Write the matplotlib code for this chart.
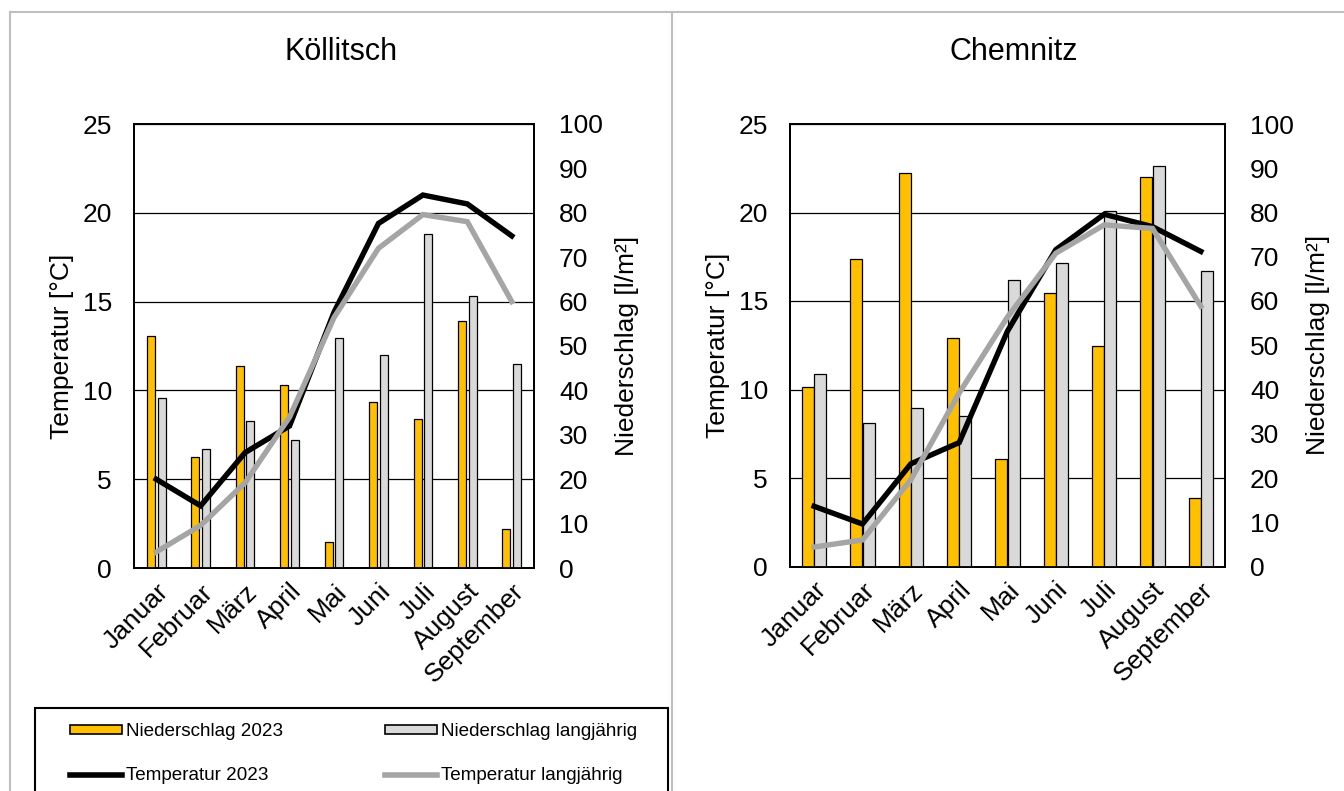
import matplotlib
matplotlib.use('Agg')
import matplotlib.pyplot as plt
from matplotlib.patches import Rectangle, Patch
from matplotlib.lines import Line2D
import numpy as np

plt.rcParams['font.family'] = ['Liberation Sans', 'DejaVu Sans']

# ---------------- data ----------------
months = ['Januar', 'Februar', 'März', 'April', 'Mai', 'Juni', 'Juli', 'August', 'September']
stations = ['Köllitsch', 'Chemnitz']

koe_prec_2023 = [52.2, 25.0, 45.5, 41.3, 5.8, 37.4, 33.6, 55.6, 8.7]
koe_prec_long = [38.3, 26.9, 33.0, 28.8, 51.8, 47.9, 75.2, 61.2, 46.0]
koe_temp_2023 = [5.0, 3.5, 6.5, 8.0, 14.4, 19.4, 21.0, 20.5, 18.7]
koe_temp_long = [0.9, 2.4, 4.8, 8.5, 14.1, 18.0, 19.9, 19.5, 15.0]

che_prec_2023 = [40.6, 69.6, 89.0, 51.7, 24.2, 61.9, 49.8, 88.0, 15.5]
che_prec_long = [43.5, 32.4, 35.8, 33.9, 64.8, 68.7, 80.3, 90.4, 66.7]
che_temp_2023 = [3.4, 2.4, 5.8, 7.0, 13.3, 17.9, 19.9, 19.2, 17.8]
che_temp_long = [1.1, 1.5, 4.9, 9.8, 14.1, 17.7, 19.3, 19.1, 14.7]

temp_ticks = [0, 5, 10, 15, 20, 25]
prec_ticks = [0, 10, 20, 30, 40, 50, 60, 70, 80, 90, 100]

legend_labels = ['Niederschlag 2023', 'Niederschlag langjährig',
                 'Temperatur 2023', 'Temperatur langjährig']

# ---------------- style ----------------
C_ORANGE = '#FFC000'
C_LGRAY = '#D9D9D9'
C_LINE_GRAY = '#A5A5A5'
C_FRAME = '#BFBFBF'

W, H = 1344, 791
fig = plt.figure(figsize=(W / 100, H / 100), dpi=100)


def fx(px):
    return px / W


def fy(py):
    return 1 - py / H


# outer chart frames
fig.add_artist(Line2D([fx(9.5), fx(9.5)], [fy(12), 0], color=C_FRAME, lw=1.5))
fig.add_artist(Line2D([fx(9.5), 1], [fy(12), fy(12)], color=C_FRAME, lw=1.5))
fig.add_artist(Line2D([fx(672), fx(672)], [fy(12), 0], color=C_FRAME, lw=1.5))

panels = [
    dict(name=stations[0], rect=(134, 124, 534, 568), bw=0.18, off=0.12,
         p23=koe_prec_2023, pl=koe_prec_long, t23=koe_temp_2023, tl=koe_temp_long,
         title_x=341, tlab_x=62, plab_x=627),
    dict(name=stations[1], rect=(790, 124, 1225, 566.5), bw=0.25, off=0.13,
         p23=che_prec_2023, pl=che_prec_long, t23=che_temp_2023, tl=che_temp_long,
         title_x=1014, tlab_x=718, plab_x=1318),
]

FS = 19
x = np.arange(len(months))

for P in panels:
    x0, y0, x1, y1 = P['rect']
    rect = [fx(x0), fy(y1), (x1 - x0) / W, (y1 - y0) / H]

    # temperature axis (left ticks + grid)
    ax_t = fig.add_axes(rect)
    ax_t.set_xlim(-0.5, len(months) - 0.5)
    ax_t.set_ylim(temp_ticks[0], temp_ticks[-1])
    ax_t.set_yticks(temp_ticks)
    ax_t.grid(axis='y', color='black', lw=0.9)
    ax_t.tick_params(axis='y', length=0, pad=16, labelsize=FS)
    ax_t.set_xticks(x)
    ax_t.set_xticklabels(months, rotation=45, ha='right', va='top',
                         rotation_mode='anchor', fontsize=FS)
    ax_t.tick_params(axis='x', length=0, pad=8)
    for s in ax_t.spines.values():
        s.set_linewidth(1.3)

    # precipitation axis (bars, right ticks)
    ax_p = ax_t.twinx()
    ax_p.set_ylim(prec_ticks[0], prec_ticks[-1])
    ax_p.set_yticks(prec_ticks)
    ax_p.tick_params(axis='y', length=0, pad=18, labelsize=FS)
    ax_p.bar(x - P['off'], P['p23'], width=P['bw'], color=C_ORANGE,
             edgecolor='black', lw=0.9)
    ax_p.bar(x + P['off'], P['pl'], width=P['bw'], color=C_LGRAY,
             edgecolor='black', lw=0.9)
    for s in ax_p.spines.values():
        s.set_linewidth(1.3)

    # temperature lines on top
    ax_l = ax_t.twinx()
    ax_l.set_ylim(temp_ticks[0], temp_ticks[-1])
    ax_l.set_yticks([])
    ax_l.plot(x, P['t23'], color='black', lw=3.9, solid_joinstyle='miter', zorder=3)
    ax_l.plot(x, P['tl'], color=C_LINE_GRAY, lw=3.9, solid_joinstyle='miter', zorder=3)
    for s in ax_l.spines.values():
        s.set_visible(False)

    fig.text(fx(P['title_x']), fy(52), P['name'], fontsize=22,
             ha='center', va='center')
    fig.text(fx(P['tlab_x']), fy((y0 + y1) / 2), 'Temperatur [°C]', fontsize=FS,
             rotation=90, ha='center', va='center')
    fig.text(fx(P['plab_x']), fy((y0 + y1) / 2), 'Niederschlag [l/m²]', fontsize=FS,
             rotation=90, ha='center', va='center')

# legend box
fig.add_artist(Rectangle((fx(35), fy(800)), fx(668) - fx(35), fy(708) - fy(800),
                         transform=fig.transFigure, fill=False,
                         edgecolor='black', lw=1.5))

handles = [
    Patch(facecolor=C_ORANGE, edgecolor='black', lw=1.2),
    Line2D([], [], color='black', lw=4),
    Patch(facecolor=C_LGRAY, edgecolor='black', lw=1.2),
    Line2D([], [], color=C_LINE_GRAY, lw=4),
]
labels = [legend_labels[0], legend_labels[2], legend_labels[1], legend_labels[3]]
fig.legend(handles, labels, ncol=2, loc='upper left',
           bbox_to_anchor=(fx(70), fy(723)), frameon=False,
           borderpad=0, borderaxespad=0, fontsize=13.6,
           handlelength=2.75, handleheight=0.35, handletextpad=0.2,
           columnspacing=5.4, labelspacing=1.45)

fig.savefig('out.png', dpi=100)
